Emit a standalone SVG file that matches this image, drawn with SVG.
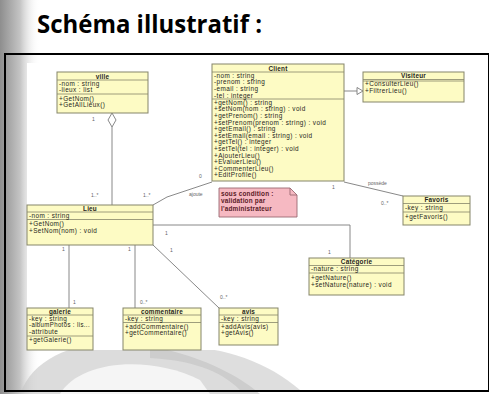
<svg xmlns="http://www.w3.org/2000/svg" width="489" height="394" viewBox="0 0 489 394">
<defs>
<linearGradient id="lg" x1="0" y1="0" x2="1" y2="0">
<stop offset="0" stop-color="#8e8e8e"/>
<stop offset="0.5" stop-color="#c4c4c4"/>
<stop offset="1" stop-color="#ffffff" stop-opacity="0"/>
</linearGradient>
<style>
.cls{fill:#fdfbc4;stroke:#85856a;stroke-width:1}
.sep{stroke:#85856a;stroke-width:0.8}
.t{font-family:"Liberation Sans",Arial,sans-serif;font-size:6.4px;letter-spacing:0.4px;fill:#26261a}
.ttl{text-anchor:middle;font-weight:bold;letter-spacing:0.2px}
.lbl{font-family:"Liberation Sans",Arial,sans-serif;font-size:5px;fill:#666}
.con{stroke:#7a7a7a;stroke-width:0.9;fill:none}
</style>
</defs>
<rect width="489" height="394" fill="#ffffff"/>
<!-- watermark background -->
<rect x="0" y="0" width="40" height="394" fill="url(#lg)"/>
<path d="M20 394 C40 340 120 330 200 360 C240 375 260 394 260 394 Z" fill="#c4c4c4" opacity="0.6"/>
<path d="M60 394 C80 360 150 355 200 380 L210 394 Z" fill="#ffffff" opacity="0.7"/>
<path d="M150 350 C200 340 260 355 300 390 L240 390 C220 370 190 360 150 358 Z" fill="#bdbdbd" opacity="0.5"/>
<text x="37" y="33" font-family="'Open Sans','Liberation Sans',Arial,sans-serif" font-weight="bold" font-size="25" textLength="225" lengthAdjust="spacingAndGlyphs" fill="#000">Schéma illustratif :</text>
<rect x="5" y="54" width="484" height="337" fill="none" stroke="#000" stroke-width="2"/>
<rect x="27" y="63" width="455" height="287" fill="#ffffff"/>

<g id="connectors">
<!-- ville - Lieu aggregation -->
<line class="con" x1="112" y1="127" x2="112" y2="205"/>
<path d="M112 113 L116 120 L112 127 L108 120 Z" fill="#fff" stroke="#7a7a7a" stroke-width="0.9"/>
<text class="lbl" x="92" y="121">1</text>
<text class="lbl" x="91" y="197">1..*</text>
<!-- Client - Visiteur generalization -->
<line class="con" x1="344" y1="91" x2="357" y2="91"/>
<path d="M357 87.5 L363 91 L357 94.5 Z" fill="#fff" stroke="#7a7a7a" stroke-width="0.9"/>
<!-- Client - Lieu -->
<polyline class="con" points="212,182 167,197 153,205"/>
<text class="lbl" x="199" y="178">0</text>
<text class="lbl" x="143" y="197">1..*</text>
<text class="lbl" x="189" y="196" font-size="4">ajoute</text>
<!-- Client - Favoris -->
<line class="con" x1="344" y1="182" x2="403" y2="196"/>
<text class="lbl" x="368" y="185" font-size="4">possède</text>
<text class="lbl" x="332" y="189">1</text>
<text class="lbl" x="381" y="205">0..*</text>
<!-- Lieu - Categorie -->
<polyline class="con" points="153,225 350,225 350,258"/>
<text class="lbl" x="328" y="254">1</text>
<text class="lbl" x="165" y="235">1</text>
<!-- Lieu - galerie -->
<line class="con" x1="69" y1="245" x2="69" y2="308"/>
<text class="lbl" x="62" y="251">1</text>
<text class="lbl" x="73" y="304">1</text>
<!-- Lieu - commentaire -->
<line class="con" x1="135" y1="245" x2="135" y2="308"/>
<text class="lbl" x="128" y="251">1</text>
<text class="lbl" x="140" y="304">0..*</text>
<!-- Lieu - avis -->
<line class="con" x1="153" y1="245" x2="219" y2="308"/>
<text class="lbl" x="170" y="252">1</text>
<text class="lbl" x="220" y="299">0..*</text>
</g>

<g id="ville">
<rect class="cls" x="57" y="72" width="91" height="41"/>
<line class="sep" x1="57" y1="80" x2="148" y2="80"/>
<line class="sep" x1="57" y1="94" x2="148" y2="94"/>
<text class="t ttl" x="102.5" y="78.5">ville</text>
<text class="t" x="59" y="85.5">-nom : string</text>
<text class="t" x="59" y="92">-lieux : list</text>
<text class="t" x="59" y="100.5">+GetNom()</text>
<text class="t" x="59" y="107">+GetAllLieux()</text>
</g>

<g id="Client">
<rect class="cls" x="212" y="64" width="132" height="117"/>
<line class="sep" x1="212" y1="72" x2="344" y2="72"/>
<line class="sep" x1="212" y1="99" x2="344" y2="99"/>
<text class="t ttl" x="278" y="70.5">Client</text>
<text class="t" x="214" y="77.5">-nom : string</text>
<text class="t" x="214" y="84.2">-prenom : string</text>
<text class="t" x="214" y="90.9">-email : string</text>
<text class="t" x="214" y="97.6">-tel : integer</text>
<text class="t" x="214" y="104.7">+getNom() : string</text>
<text class="t" x="214" y="111.3">+setNom(nom : string) : void</text>
<text class="t" x="214" y="117.9">+getPrenom() : string</text>
<text class="t" x="214" y="124.5">+setPrenom(prenom : string) : void</text>
<text class="t" x="214" y="131.1">+getEmail() : string</text>
<text class="t" x="214" y="137.7">+setEmail(email : string) : void</text>
<text class="t" x="214" y="144.3">+getTel() : integer</text>
<text class="t" x="214" y="150.9">+setTel(tel : integer) : void</text>
<text class="t" x="214" y="157.5">+AjouterLieu()</text>
<text class="t" x="214" y="164.1">+EvaluerLieu()</text>
<text class="t" x="214" y="170.7">+CommenterLieu()</text>
<text class="t" x="214" y="177.3">+EditProfile()</text>
</g>

<g id="Visiteur">
<rect class="cls" x="363" y="72" width="101" height="30"/>
<line class="sep" x1="363" y1="79.5" x2="464" y2="79.5"/>
<line class="sep" x1="363" y1="81" x2="464" y2="81"/>
<text class="t ttl" x="413.5" y="78">Visiteur</text>
<text class="t" x="365" y="86">+ConsulterLieu()</text>
<text class="t" x="365" y="92.5">+FiltrerLieu()</text>
</g>

<g id="Lieu">
<rect class="cls" x="27" y="205" width="126" height="40"/>
<line class="sep" x1="27" y1="212" x2="153" y2="212"/>
<line class="sep" x1="27" y1="219.5" x2="153" y2="219.5"/>
<text class="t ttl" x="90" y="210.5">Lieu</text>
<text class="t" x="29" y="218">-nom : string</text>
<text class="t" x="29" y="225.5">+GetNom()</text>
<text class="t" x="29" y="233">+SetNom(nom) : void</text>
</g>

<g id="note">
<path d="M219 188 L290 188 L297 195 L297 217 L219 217 Z" fill="#f6b9c2" stroke="#9a6a72" stroke-width="0.9"/>
<path d="M290 188 L290 195 L297 195" fill="none" stroke="#9a6a72" stroke-width="0.9"/>
<text class="t" x="221" y="195.5" style="fill:#5a1a26;font-weight:bold;letter-spacing:0.2px">sous condition :</text>
<text class="t" x="221" y="203" style="fill:#5a1a26;font-weight:bold;letter-spacing:0.2px">validation par</text>
<text class="t" x="221" y="210.5" style="fill:#5a1a26;font-weight:bold;letter-spacing:0.2px">l'administrateur</text>
</g>

<g id="Favoris">
<rect class="cls" x="403" y="196" width="67" height="29"/>
<line class="sep" x1="403" y1="203.5" x2="470" y2="203.5"/>
<line class="sep" x1="403" y1="212" x2="470" y2="212"/>
<text class="t ttl" x="436.5" y="202">Favoris</text>
<text class="t" x="405" y="210">-key : string</text>
<text class="t" x="405" y="218.5">+getFavoris()</text>
</g>

<g id="Categorie">
<rect class="cls" x="309" y="258" width="95" height="37"/>
<line class="sep" x1="309" y1="265.5" x2="404" y2="265.5"/>
<line class="sep" x1="309" y1="273" x2="404" y2="273"/>
<text class="t ttl" x="356.5" y="263.8">Catégorie</text>
<text class="t" x="311" y="271">-nature : string</text>
<text class="t" x="311" y="280">+getNature()</text>
<text class="t" x="311" y="286.5">+setNature(nature) : void</text>
</g>

<g id="galerie">
<rect class="cls" x="27" y="308" width="66" height="42"/>
<line class="sep" x1="27" y1="315" x2="93" y2="315"/>
<line class="sep" x1="27" y1="336" x2="93" y2="336"/>
<text class="t ttl" x="60" y="313.5">galerie</text>
<text class="t" x="29" y="320.5">-key : string</text>
<text class="t" x="29" y="327" textLength="61" lengthAdjust="spacingAndGlyphs">-albumPhotos : lis...</text>
<text class="t" x="29" y="333.5">-attribute</text>
<text class="t" x="29" y="342">+getGalerie()</text>
</g>

<g id="commentaire">
<rect class="cls" x="123" y="308" width="78" height="42"/>
<line class="sep" x1="123" y1="315" x2="201" y2="315"/>
<line class="sep" x1="123" y1="322.5" x2="201" y2="322.5"/>
<text class="t ttl" x="162" y="313.5">commentaire</text>
<text class="t" x="125" y="320.5">-key : string</text>
<text class="t" x="125" y="328.5">+addCommentaire()</text>
<text class="t" x="125" y="335">+getCommentaire()</text>
</g>

<g id="avis">
<rect class="cls" x="219" y="308" width="59" height="37"/>
<line class="sep" x1="219" y1="315" x2="278" y2="315"/>
<line class="sep" x1="219" y1="322.5" x2="278" y2="322.5"/>
<text class="t ttl" x="248.5" y="313.5">avis</text>
<text class="t" x="221" y="320.5">-key : string</text>
<text class="t" x="221" y="328.5">+addAvis(avis)</text>
<text class="t" x="221" y="335">+getAvis()</text>
</g>
</svg>
